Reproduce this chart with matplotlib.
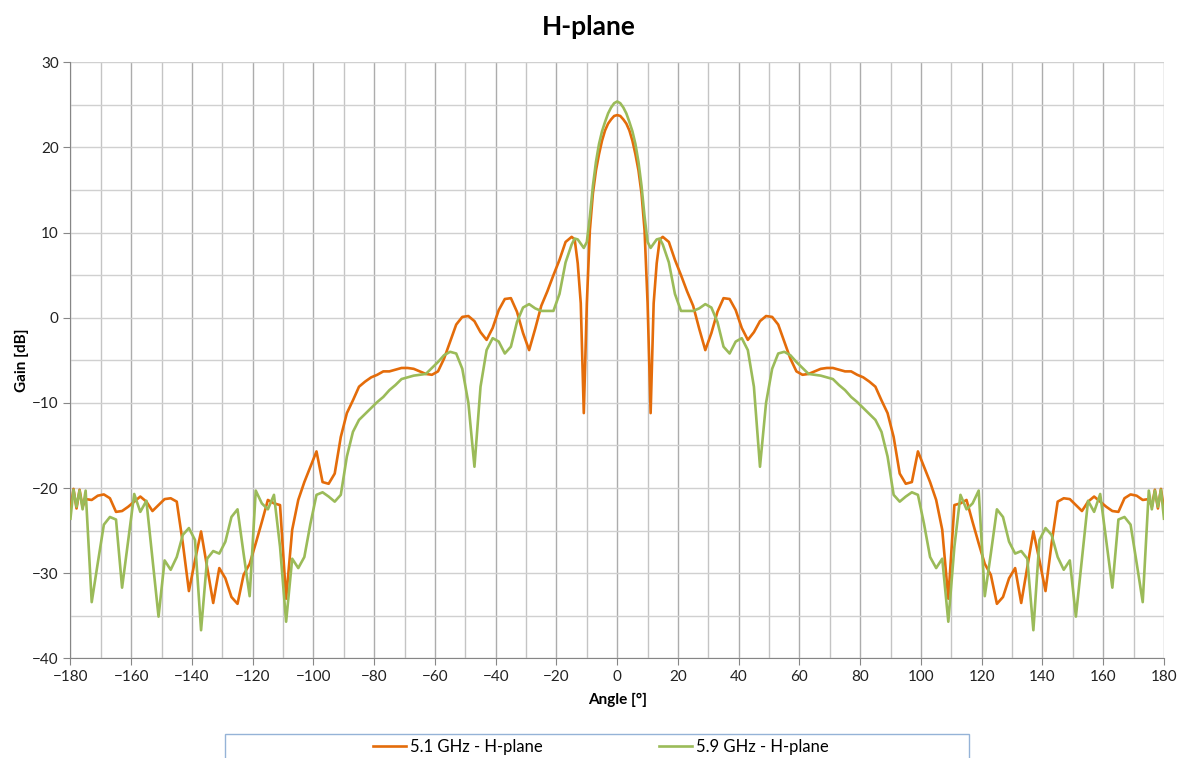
import matplotlib
matplotlib.use("Agg")
import matplotlib.pyplot as plt
from matplotlib.patches import Rectangle

plt.rcParams["font.family"] = ["Lato", "DejaVu Sans"]

angle = [
    -180, -179, -178, -177, -176, -175, -173, -171, -169, -167, -165, -163, -161,
    -159, -157, -155, -153, -151, -149, -147, -145, -143, -141, -139, -137, -135,
    -133, -131, -129, -127, -125, -123, -121, -119, -117, -115, -113, -111, -109,
    -107, -105, -103, -101, -99, -97, -95, -93, -91, -89, -87, -85, -83, -81, -79,
    -77, -75, -73, -71, -69, -67, -65, -63, -61, -59, -57, -55, -53, -51, -49, -47,
    -45, -43, -41, -39, -37, -35, -33, -31, -29, -27, -25, -23, -21, -19, -17, -15,
    -14, -13, -12, -11, -10, -9, -8, -7, -6, -5, -4, -3, -2, -1,
    0,
    1, 2, 3, 4, 5, 6, 7, 8, 9, 10, 11, 12, 13, 14,
    15, 17, 19, 21, 23, 25, 27, 29, 31, 33, 35, 37, 39, 41, 43, 45, 47, 49, 51, 53,
    55, 57, 59, 61, 63, 65, 67, 69, 71, 73, 75, 77, 79, 81, 83, 85, 87, 89, 91, 93,
    95, 97, 99, 101, 103, 105, 107, 109, 111, 113, 115, 117, 119, 121, 123, 125,
    127, 129, 131, 133, 135, 137, 139, 141, 143, 145, 147, 149, 151, 153, 155, 157,
    159, 161, 163, 165, 167, 169, 171, 173, 175, 176, 177, 178, 179, 180,
]

gain_51 = [
    -22.5, -20.1, -22.4, -20.2, -22.2, -21.3, -21.4, -20.9, -20.75, -21.2, -22.8, -22.7, -22.2,
    -21.6, -21.0, -21.6, -22.7, -22.0, -21.3, -21.2, -21.6, -26.5, -32.1, -28.5, -25.1, -29.3,
    -33.5, -29.4, -30.6, -32.8, -33.6, -30.2, -28.9, -26.5, -24.0, -21.4, -21.8, -22.0, -33.0,
    -24.9, -21.4, -19.3, -17.5, -15.7, -19.3, -19.5, -18.3, -14.0, -11.2, -9.7, -8.1, -7.5, -7.0, -6.7,
    -6.3, -6.3, -6.1, -5.9, -5.9, -6.0, -6.3, -6.6, -6.7, -6.3, -4.8, -2.8, -0.8, 0.1, 0.2, -0.4,
    -1.7, -2.6, -1.2, 0.9, 2.2, 2.3, 0.7, -1.8, -3.8, -1.3, 1.4, 3.1, 5.0, 6.8, 8.9, 9.5,
    9.2, 6.4, 1.7, -11.2, 1.7, 10.3, 14.6, 17.3, 19.2, 20.8, 22.0, 22.8, 23.3, 23.7,
    23.8,
    23.7, 23.3, 22.8, 22.0, 20.8, 19.2, 17.3, 14.6, 10.3, 1.7, -11.2, 1.7, 6.4, 9.2,
    9.5, 8.9, 6.8, 5.0, 3.1, 1.4, -1.3, -3.8, -1.8, 0.7, 2.3, 2.2, 0.9, -1.2, -2.6, -1.7, -0.4, 0.2, 0.1, -0.8,
    -2.8, -4.8, -6.3, -6.7, -6.6, -6.3, -6.0, -5.9, -5.9, -6.1, -6.3, -6.3, -6.7, -7.0, -7.5, -8.1, -9.7, -11.2, -14.0, -18.3,
    -19.5, -19.3, -15.7, -17.5, -19.3, -21.4, -24.9, -33.0, -22.0, -21.8, -21.4, -24.0, -26.5, -28.9, -30.2, -33.6,
    -32.8, -30.6, -29.4, -33.5, -29.3, -25.1, -28.5, -32.1, -26.5, -21.6, -21.2, -21.3, -22.0, -22.7, -21.6, -21.0,
    -21.6, -22.2, -22.7, -22.8, -21.2, -20.75, -20.9, -21.4, -21.3, -22.2, -20.2, -22.4, -20.1, -22.5,
]

gain_59 = [
    -23.6, -20.2, -22.2, -20.3, -22.5, -20.3, -33.4, -28.8, -24.3, -23.4, -23.7, -31.7, -26.2,
    -20.7, -22.8, -21.5, -28.3, -35.1, -28.5, -29.6, -28.1, -25.5, -24.7, -26.1, -36.7, -28.3,
    -27.4, -27.7, -26.3, -23.4, -22.5, -27.7, -32.7, -20.3, -21.8, -22.5, -20.8, -26.9, -35.7,
    -28.3, -29.4, -28.1, -24.2, -20.8, -20.5, -21.0, -21.6, -20.8, -16.3, -13.4, -12.0, -11.3, -10.6, -9.9,
    -9.3, -8.5, -7.9, -7.2, -7.0, -6.8, -6.7, -6.6, -5.9, -5.2, -4.4, -4.0, -4.2, -6.0, -10.0, -17.5,
    -8.1, -3.8, -2.4, -2.8, -4.2, -3.4, -0.5, 1.2, 1.6, 1.1, 0.8, 0.8, 0.8, 2.8, 6.5, 8.6,
    9.3, 9.2, 8.7, 8.2, 8.9, 11.9, 15.5, 18.3, 20.4, 21.9, 23.0, 24.0, 24.7, 25.2,
    25.4,
    25.2, 24.7, 24.0, 23.0, 21.9, 20.4, 18.3, 15.5, 11.9, 8.9, 8.2, 8.7, 9.2, 9.3,
    8.6, 6.5, 2.8, 0.8, 0.8, 0.8, 1.1, 1.6, 1.2, -0.5, -3.4, -4.2, -2.8, -2.4, -3.8, -8.1, -17.5, -10.0, -6.0, -4.2,
    -4.0, -4.4, -5.2, -5.9, -6.6, -6.7, -6.8, -7.0, -7.2, -7.9, -8.5, -9.3, -9.9, -10.6, -11.3, -12.0, -13.4, -16.3, -20.8, -21.6,
    -21.0, -20.5, -20.8, -24.2, -28.1, -29.4, -28.3, -35.7, -26.9, -20.8, -22.5, -21.8, -20.3, -32.7, -27.7, -22.5,
    -23.4, -26.3, -27.7, -27.4, -28.3, -36.7, -26.1, -24.7, -25.5, -28.1, -29.6, -28.5, -35.1, -28.3, -21.5, -22.8,
    -20.7, -26.2, -31.7, -23.7, -23.4, -24.3, -28.8, -33.4, -20.3, -22.5, -20.3, -22.2, -20.2, -23.6,
]

x_ticks = list(range(-180, 181, 20))
y_ticks = list(range(-40, 31, 10))

fig = plt.figure(figsize=(11.78, 7.58), dpi=100)
ax = fig.add_axes([0.0598, 0.1315, 0.9283, 0.7863])

ax.plot(angle, gain_51, color="#E46C0A", lw=1.9, label="5.1 GHz - H-plane", zorder=3)
ax.plot(angle, gain_59, color="#9BBB59", lw=1.9, label="5.9 GHz - H-plane", zorder=3)

ax.set_xlim(-180, 180)
ax.set_ylim(-40, 30)
ax.set_xticks(x_ticks)
ax.set_yticks(y_ticks)
ax.set_xticks(range(-170, 180, 20), minor=True)
ax.set_yticks(range(-35, 30, 10), minor=True)
ax.grid(True, which="major", axis="x", color="#acacac", lw=1.0)
ax.grid(True, which="minor", axis="x", color="#c4c4c4", lw=1.0)
ax.grid(True, which="both", axis="y", color="#d0d0d0", lw=1.0)
ax.set_axisbelow(True)
ax.tick_params(axis="both", which="major", labelsize=11, length=5, color="#868686", colors="#222222")
ax.tick_params(axis="both", which="minor", length=0)
for side in ["top", "right"]:
    ax.spines[side].set_visible(False)
for side in ["left", "bottom"]:
    ax.spines[side].set_color("#868686")

ax.set_xlabel("Angle [°]", fontsize=11, fontweight="bold", labelpad=6)
ax.set_ylabel("Gain [dB]", fontsize=11, fontweight="bold", labelpad=2)
fig.text(0.5, 0.965, "H-plane", ha="center", va="center", fontsize=19, fontweight="bold")

handles, labels = ax.get_legend_handles_labels()
fig.legend(handles, labels, loc="center", bbox_to_anchor=(0.51, 0.0145), ncol=2,
           frameon=False, fontsize=12, columnspacing=7, handlelength=2.0, handletextpad=0.2)
fig.patches.append(Rectangle((225 / 1178, -0.02), (969 - 225) / 1178, 0.02 + (758 - 734) / 758,
                             transform=fig.transFigure, fill=False, edgecolor="#95b3d7", lw=1.0))

fig.savefig("out.png", dpi=100)
